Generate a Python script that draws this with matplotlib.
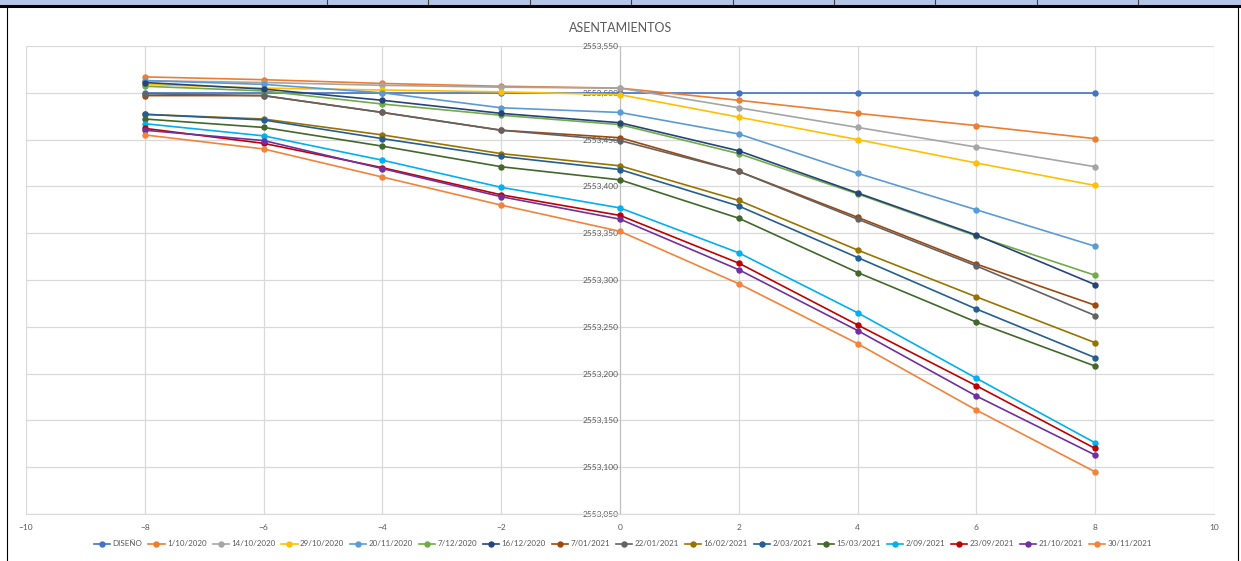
import matplotlib
matplotlib.use("Agg")
import matplotlib.pyplot as plt
from matplotlib.lines import Line2D
from matplotlib.patches import Rectangle
from matplotlib.ticker import FuncFormatter, MultipleLocator

plt.rcParams['font.family'] = ['Lato', 'DejaVu Sans']

x = [-8, -6, -4, -2, 0, 2, 4, 6, 8]

labels = ["DISEÑO", "1/10/2020", "14/10/2020", "29/10/2020", "20/11/2020", "7/12/2020",
          "16/12/2020", "7/01/2021", "22/01/2021", "16/02/2021", "2/03/2021", "15/03/2021",
          "2/09/2021", "23/09/2021", "21/10/2021", "30/11/2021"]

colors = ["#4472C4", "#ED7D31", "#A5A5A5", "#FFC000", "#5B9BD5", "#70AD47",
          "#264478", "#9E480E", "#636363", "#997300", "#255E91", "#43682B",
          "#00B0F0", "#C00000", "#7030A0", "#F4823A"]

diseno   = [2553.500, 2553.500, 2553.500, 2553.500, 2553.500, 2553.500, 2553.500, 2553.500, 2553.500]
s_011020 = [2553.517, 2553.514, 2553.510, 2553.507, 2553.505, 2553.492, 2553.478, 2553.465, 2553.451]
s_141020 = [2553.513, 2553.511, 2553.508, 2553.506, 2553.505, 2553.484, 2553.463, 2553.442, 2553.421]
s_291020 = [2553.509, 2553.505, 2553.503, 2553.501, 2553.498, 2553.474, 2553.450, 2553.425, 2553.401]
s_201120 = [2553.513, 2553.509, 2553.500, 2553.484, 2553.479, 2553.456, 2553.414, 2553.375, 2553.336]
s_071220 = [2553.507, 2553.502, 2553.488, 2553.476, 2553.466, 2553.435, 2553.392, 2553.347, 2553.305]
s_161220 = [2553.511, 2553.504, 2553.492, 2553.478, 2553.468, 2553.438, 2553.393, 2553.348, 2553.295]
s_070121 = [2553.497, 2553.497, 2553.479, 2553.460, 2553.452, 2553.416, 2553.367, 2553.317, 2553.273]
s_220121 = [2553.499, 2553.497, 2553.479, 2553.460, 2553.449, 2553.416, 2553.365, 2553.315, 2553.262]
s_160221 = [2553.477, 2553.472, 2553.455, 2553.435, 2553.422, 2553.385, 2553.332, 2553.282, 2553.233]
s_020321 = [2553.477, 2553.471, 2553.451, 2553.432, 2553.418, 2553.379, 2553.324, 2553.269, 2553.217]
s_150321 = [2553.472, 2553.463, 2553.443, 2553.421, 2553.407, 2553.366, 2553.308, 2553.255, 2553.208]
s_020921 = [2553.467, 2553.454, 2553.428, 2553.399, 2553.377, 2553.329, 2553.265, 2553.195, 2553.126]
s_230921 = [2553.462, 2553.446, 2553.420, 2553.391, 2553.369, 2553.318, 2553.252, 2553.187, 2553.120]
s_211021 = [2553.460, 2553.449, 2553.419, 2553.389, 2553.365, 2553.311, 2553.246, 2553.176, 2553.113]
s_301121 = [2553.455, 2553.440, 2553.410, 2553.380, 2553.352, 2553.296, 2553.232, 2553.161, 2553.095]

series = [diseno, s_011020, s_141020, s_291020, s_201120, s_071220, s_161220, s_070121,
          s_220121, s_160221, s_020321, s_150321, s_020921, s_230921, s_211021, s_301121]

fig = plt.figure(figsize=(12.41, 5.61), dpi=100)
ax = fig.add_axes([26/1241, 1 - 514/561, (1214 - 26)/1241, (514 - 46)/561])

for lab, col, ys in zip(labels, colors, series):
    ax.plot(x, ys, color=col, lw=1.2, marker='o', ms=3.6, label=lab, zorder=3)

ax.set_xlim(-10, 10)
ax.set_ylim(2553.05, 2553.55)
ax.xaxis.set_major_locator(MultipleLocator(2))
ax.yaxis.set_major_locator(MultipleLocator(0.05))
ax.yaxis.set_major_formatter(FuncFormatter(lambda v, p: f"{v:.3f}".replace('.', ',')))

ax.grid(True, color='#D9D9D9', lw=0.9, zorder=0)
for s in ['top', 'right']:
    ax.spines[s].set_visible(False)
ax.spines['left'].set_position(('data', 0))
ax.spines['left'].set_color('#BFBFBF')
ax.spines['bottom'].set_color('#D9D9D9')
ax.tick_params(axis='both', length=0, labelsize=6, labelcolor='#595959')
ax.tick_params(axis='y', pad=1)
ax.tick_params(axis='x', pad=7)

fig.text(0.5, 1 - 28/561, "ASENTAMIENTOS", ha='center', va='center', fontsize=9, color='#595959')

leg = fig.legend(loc='center', bbox_to_anchor=(623/1241, 1 - 544/561), ncol=16, frameon=False,
                 fontsize=5.8, handlelength=2.0, handletextpad=0.3, columnspacing=0.75,
                 labelcolor='#595959')

# Excel-like frame
fig.add_artist(Rectangle((0, 1 - 5/561), 1, 5/561, transform=fig.transFigure,
                         facecolor='#B4C6E7', edgecolor='none'))
for px in [327, 428, 530, 631, 733, 834, 935, 1037, 1138]:
    fig.add_artist(Line2D([px/1241, px/1241], [1 - 5/561, 1], transform=fig.transFigure,
                          color='#404040', lw=0.8))
fig.add_artist(Line2D([0, 1], [1 - 5.5/561, 1 - 5.5/561], transform=fig.transFigure, color='black', lw=2.2))
fig.add_artist(Line2D([6.5/1241, 6.5/1241], [0, 1 - 5/561], transform=fig.transFigure, color='black', lw=0.8))
fig.add_artist(Line2D([1237.5/1241, 1237.5/1241], [0, 1 - 5/561], transform=fig.transFigure, color='black', lw=0.8))

fig.savefig("out.png", dpi=100)
